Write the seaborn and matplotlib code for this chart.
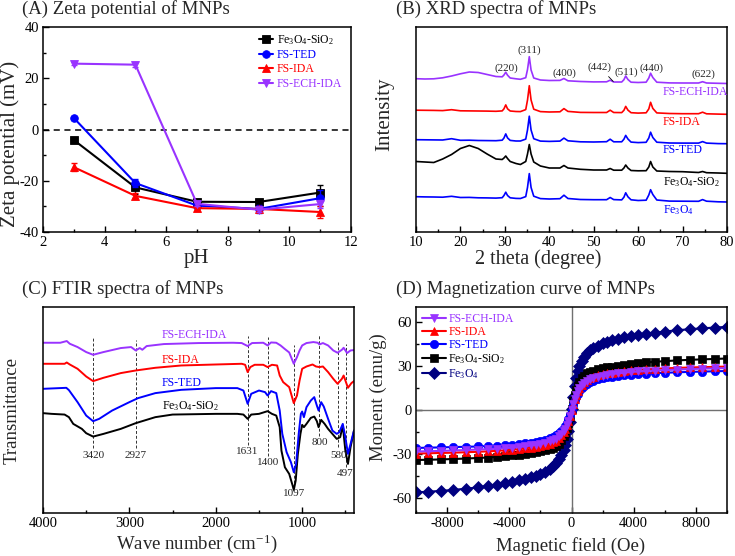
import matplotlib
matplotlib.use("Agg")
import matplotlib.pyplot as plt
import seaborn as sns
from matplotlib.ticker import MultipleLocator

sns.set_style("ticks")
plt.rcParams['font.family'] = ['Liberation Serif', 'DejaVu Serif']
plt.rcParams['mathtext.fontset'] = 'custom'
plt.rcParams['mathtext.rm'] = 'Liberation Serif'
plt.rcParams['mathtext.it'] = 'Liberation Serif:italic'
plt.rcParams['axes.unicode_minus'] = False

PURPLE = '#9933ff'
RED = '#ff0000'
BLUE = '#0000ff'
NAVY = '#000080'
BLACK = '#000000'

# ---------------- (A) Zeta potential ----------------
ph = [3, 5, 7, 9, 11]
zeta_sio2 = [-4.1, -22.6, -28.2, -28.3, -24.6]
zeta_ted = [4.5, -20.9, -29.7, -31.0, -26.8]
zeta_ida = [-14.7, -25.9, -30.7, -31.0, -32.2]
zeta_ech = [25.7, 25.3, -29.0, -31.3, -29.1]
err_sio2 = [0.8, 2.5, 1.2, 0.8, 2.8]
err_ted = [0.9, 1.5, 1.0, 1.5, 3.0]
err_ida = [1.5, 1.0, 1.0, 1.2, 2.5]
err_ech = [0.6, 1.0, 1.0, 1.0, 1.5]

# ---------------- (B) XRD ----------------
two_theta = [10, 12, 14, 16, 18, 20, 22, 24, 26, 28,
             29.4, 29.8, 30.2, 30.6, 31.2, 32.5, 33.5, 34.7, 35.1, 35.5,
             35.9, 36.5, 38, 40, 42.4, 43.3, 44.2, 47, 50, 52.9,
             53.7, 54.5, 56.3, 56.8, 57.2, 57.7, 58.4, 60, 61.8, 62.4,
             62.8, 63.3, 64.2, 67, 70, 73.6, 74.5, 75.4, 78, 80]
xrd_fe3o4 = [35.3, 35.1, 35.0, 34.8, 35.7, 34.5, 34.6, 34.2, 34.1, 33.9,
             34.3, 36.5, 39.8, 36.5, 34.2, 33.6, 33.5, 35.4, 44.6, 58.4,
             44.5, 35.8, 33.4, 33.0, 33.3, 36.8, 33.5, 32.5, 32.3, 32.3,
             34.5, 32.4, 32.1, 34.8, 39.2, 35.2, 32.2, 31.5, 31.8, 37.0,
             42.3, 37.5, 32.0, 30.9, 30.8, 30.7, 32.4, 30.8, 30.2, 30.0]
xrd_sio2 = [70.5, 70.0, 69.5, 73.0, 77.5, 83.5, 86.5, 83.5, 78.0, 73.0,
            72.5, 74.0, 76.0, 73.5, 70.5, 68.5, 67.5, 70.5, 78.0, 87.5,
            78.0, 70.0, 66.0, 64.0, 64.0, 66.5, 64.0, 62.7, 62.0, 62.0,
            63.5, 61.8, 61.8, 64.0, 67.0, 64.0, 61.5, 61.2, 61.3, 65.0,
            70.5, 65.0, 61.0, 60.5, 60.3, 59.5, 60.5, 59.3, 59.0, 58.7]
xrd_ted = [92.3, 92.2, 92.1, 92.0, 93.3, 91.7, 91.8, 91.5, 91.4, 91.3,
           91.8, 94.0, 98.1, 94.1, 91.6, 91.0, 91.0, 92.9, 102.1, 115.8,
           102.0, 93.3, 90.9, 90.6, 90.9, 93.9, 91.2, 90.2, 90.0, 90.3,
           92.8, 90.2, 90.2, 92.8, 96.6, 93.0, 89.9, 89.4, 89.7, 94.0,
           99.8, 94.5, 89.8, 89.0, 88.9, 88.9, 90.4, 88.9, 88.4, 88.3]
xrd_ida = [121.8, 121.7, 121.6, 121.4, 122.3, 121.2, 121.1, 121.0, 120.9, 120.7,
           121.1, 123.2, 127.1, 123.2, 121.0, 120.5, 120.4, 122.4, 132.0, 146.3,
           132.0, 122.8, 120.4, 120.0, 120.2, 123.4, 120.6, 119.6, 119.5, 119.5,
           121.8, 119.5, 119.4, 121.7, 125.6, 121.9, 119.3, 118.9, 119.2, 123.1,
           129.7, 123.6, 119.1, 118.5, 118.3, 118.3, 119.8, 118.2, 117.9, 117.7]
xrd_ech = [153.3, 153.0, 153.2, 154.2, 156.0, 158.2, 160.0, 159.5, 157.5, 155.5,
           155.2, 157.0, 159.8, 156.8, 154.0, 153.2, 152.7, 154.3, 162.5, 175.3,
           162.0, 154.0, 152.0, 151.5, 151.6, 153.5, 151.2, 150.5, 150.1, 150.2,
           151.8, 150.0, 150.0, 152.3, 156.0, 152.5, 149.8, 149.5, 149.8, 154.0,
           158.8, 154.5, 149.8, 149.1, 149.0, 149.0, 150.3, 149.0, 148.7, 148.5]
xrd_peak_labels = ['(220)', '(311)', '(400)', '(442)', '(511)', '(440)', '(622)']
xrd_peak_x = [30.4, 35.5, 43.3, 51.4, 57.4, 62.9, 74.6]
xrd_peak_y = [164, 182, 159, 164.5, 160, 164, 158]

# ---------------- (C) FTIR ----------------
ftir_ech_x = [4000, 3800, 3725, 3690, 3600, 3500, 3420, 3300, 3100, 2980, 2927, 2880, 2850, 2800,
              2600, 2200, 1800, 1700, 1631, 1580, 1450, 1400, 1360, 1300, 1250, 1200, 1150, 1097,
              1060, 1030, 1000, 950, 870, 820, 800, 760, 700, 640, 590, 540, 520, 480, 440, 400]
ftir_ech_y = [170, 170, 171.7, 169, 165.7, 160.7, 158, 160.7, 164.7, 165.7, 162.3, 164.7, 163, 166.7,
              168.7, 169.7, 170, 169.7, 166.7, 169.7, 170, 167.3, 170.3, 170, 167.3, 163.7, 160.3, 149,
              155.7, 162.3, 167.3, 169.7, 170.7, 170, 168.3, 169.7, 167.3, 162.3, 160, 163, 165, 159.7,
              162.3, 162.7]
ftir_ida_x = [4000, 3750, 3725, 3690, 3600, 3500, 3420, 3300, 3100, 2927, 2700, 2400, 2000, 1700,
              1660, 1631, 1600, 1550, 1450, 1400, 1350, 1290, 1260, 1220, 1150, 1097, 1060, 1030,
              1000, 950, 880, 840, 800, 760, 700, 640, 590, 540, 520, 470, 430, 400]
ftir_ida_y = [149, 149, 150.3, 148.3, 144, 136.3, 131.7, 135, 139.7, 142.3, 145, 147.3, 148.3, 149,
              148, 140.7, 145.7, 148, 148, 145.7, 148, 147.3, 137.3, 130.7, 125.7, 109.7, 117.3, 132.3,
              144, 146.3, 148.3, 146.3, 145.7, 146.3, 140.7, 134, 129, 134, 137.3, 125, 129.7, 131.7]
ftir_ted_x = [4000, 3730, 3700, 3600, 3500, 3420, 3350, 3200, 3000, 2900, 2700, 2400, 2000, 1750,
              1680, 1631, 1590, 1500, 1430, 1400, 1360, 1300, 1260, 1230, 1180, 1130, 1097, 1070,
              1040, 1015, 1000, 980, 950, 900, 860, 830, 810, 780, 750, 700, 650, 600, 570, 530,
              500, 470, 440, 400]
ftir_ted_y = [124, 125, 122.7, 110.7, 97.3, 91.7, 94, 102.3, 110.7, 114.7, 119.7, 123, 124.7, 124.7,
              122.3, 109, 119, 122.3, 120.7, 117.3, 121.7, 119.7, 102.3, 79, 60.7, 50.7, 40.7, 49,
              79, 99, 101.3, 95.7, 105.7, 112.3, 115.7, 107.3, 102.3, 110.7, 106.3, 94, 82.3, 79,
              80.7, 89, 75.7, 59, 69, 82.3]
ftir_sio2_x = [4000, 3900, 3750, 3700, 3650, 3550, 3500, 3420, 3300, 3100, 2927, 2700, 2500, 2000,
               1750, 1680, 1631, 1590, 1500, 1400, 1350, 1300, 1260, 1240, 1200, 1150, 1110, 1097,
               1075, 1050, 1020, 1000, 980, 950, 900, 860, 830, 810, 780, 740, 700, 650, 600, 560,
               530, 500, 470, 440, 400]
ftir_sio2_y = [99.7, 99, 98.3, 95.7, 89, 84, 79.7, 76.3, 79, 84, 89.7, 95.7, 98.3, 99,
               99, 98.3, 94, 98.3, 99, 101.7, 99, 97.3, 85.7, 62.3, 45.7, 39, 27.3, 23,
               32.3, 59, 79, 88, 85.7, 89, 95, 96.3, 91.7, 85.7, 93, 89, 84, 79, 74, 75.7,
               87.3, 62.3, 49, 65.7, 82.3]
ftir_band_labels = ['3420', '2927', '1631', '1400', '1097', '800', '580', '497']
ftir_band_x = [3420, 2927, 1631, 1400, 1097, 800, 580, 497]
ftir_band_top = [175, 173, 176.3, 175.7, 167.3, 179, 170.7, 168.3]
ftir_band_bottom = [65, 65, 68.3, 57.3, 29.7, 77.3, 65.7, 46.3]
ftir_label_y = [57.3, 57.3, 61.7, 50.7, 19, 70.7, 57.3, 39]

# ---------------- (D) Magnetization ----------------
field = [-10000, -9200, -8400, -7600, -6800, -6000, -5400, -4800, -4300, -3800, -3400, -3000, -2600,
         -2300, -2000, -1700, -1400, -1200, -1000, -800, -650, -500, -400, -300, -200, -100, 0,
         100, 200, 300, 400, 500, 650, 800, 1000, 1200, 1400, 1700, 2000, 2300, 2600, 3000, 3400,
         3800, 4300, 4800, 5400, 6000, 6800, 7600, 8400, 9200, 10000]
m_fe3o4 = [-56.0, -55.5, -55.0, -54.3, -53.5, -52.6, -51.7, -50.8, -49.9, -48.9, -47.9, -46.9, -45.8,
           -44.8, -43.6, -42.0, -40.0, -38.2, -36.0, -33.2, -30.5, -27.0, -23.5, -19.5, -14.5, -8.0, 0.5,
           9.0, 16.0, 22.0, 26.5, 30.0, 33.5, 36.0, 38.5, 40.5, 42.0, 43.8, 45.2, 46.3, 47.3, 48.4, 49.3,
           50.1, 51.0, 51.8, 52.6, 53.3, 54.2, 54.9, 55.5, 56.0, 56.5]
m_sio2 = [-34.0, -33.8, -33.6, -33.3, -33.0, -32.6, -32.3, -31.9, -31.4, -30.9, -30.3, -29.7, -29.1,
          -28.6, -28.0, -27.2, -26.4, -25.6, -24.5, -22.8, -20.7, -18.0, -15.5, -12.5, -9.0, -5.0, 0.5,
          6.0, 10.0, 13.5, 16.5, 19.0, 21.5, 23.3, 25.0, 26.0, 26.8, 27.6, 28.3, 28.9, 29.4, 30.0, 30.6,
          31.2, 31.8, 32.3, 32.8, 33.2, 33.7, 34.1, 34.4, 34.7, 35.0]
m_ted = [-25.8, -25.6, -25.4, -25.2, -25.0, -24.8, -24.5, -24.2, -23.9, -23.5, -23.1, -22.7, -22.2,
         -21.7, -21.1, -20.3, -19.3, -18.4, -17.2, -15.8, -14.3, -12.3, -10.6, -8.7, -6.3, -3.4, 0.0,
         3.5, 6.5, 9.0, 11.0, 12.8, 14.8, 16.3, 17.8, 18.9, 19.8, 20.8, 21.6, 22.2, 22.7, 23.2, 23.6,
         24.0, 24.4, 24.7, 25.0, 25.3, 25.6, 25.9, 26.1, 26.3, 26.5]
m_ida = [-29.6, -29.4, -29.2, -29.0, -28.7, -28.4, -28.1, -27.8, -27.4, -27.0, -26.6, -26.1, -25.5,
         -25.0, -24.4, -23.7, -22.8, -21.9, -20.8, -19.0, -17.3, -15.0, -13.0, -10.5, -7.5, -4.0, 0.3,
         4.0, 7.5, 10.5, 13.0, 15.0, 17.3, 19.0, 20.7, 21.8, 22.7, 23.6, 24.3, 24.9, 25.4, 26.0, 26.5,
         26.9, 27.3, 27.7, 28.0, 28.3, 28.6, 28.9, 29.1, 29.3, 29.5]
m_ech = [-28.2, -28.0, -27.8, -27.5, -27.2, -26.9, -26.6, -26.3, -25.9, -25.5, -25.1, -24.6, -24.1,
         -23.6, -23.1, -22.3, -21.4, -20.6, -19.5, -18.0, -16.5, -14.5, -12.6, -10.3, -7.3, -4.0, 0.2,
         4.0, 7.5, 10.5, 12.8, 14.7, 16.8, 18.3, 19.8, 20.9, 21.7, 22.6, 23.4, 23.9, 24.4, 24.9, 25.4,
         25.8, 26.2, 26.5, 26.8, 27.1, 27.5, 27.8, 28.1, 28.3, 28.5]

LBL_SIO2 = 'Fe$_3$O$_4$-SiO$_2$'
LBL_FE = 'Fe$_3$O$_4$'

W, H = 735, 556
fig = plt.figure(figsize=(W / 100, H / 100), dpi=100)


def px_axes(l, t, r, b):
    return fig.add_axes([l / W, 1 - b / H, (r - l) / W, (b - t) / H])


def style(ax, tick_size=10.5):
    for s in ax.spines.values():
        s.set_linewidth(1.1)
        s.set_color('black')
    ax.tick_params(which='both', direction='in', top=False, right=False,
                   labelsize=tick_size, width=1.0, colors='black', pad=3)
    ax.tick_params(which='major', length=4)
    ax.tick_params(which='minor', length=2)
    ax.set_xlabel('')
    ax.set_ylabel('')


def ftext(x, y, s, size, **kw):
    fig.text(x / W, 1 - y / H, s, fontsize=size, **kw)


axA = px_axes(43, 27, 351, 232)
axB = px_axes(416, 27, 727, 232)
axC = px_axes(43, 307, 354, 513)
axD = px_axes(416, 307, 727, 513)

# ---- A ----
axA.axhline(0, color='black', lw=1.1, ls=(0, (4, 3)), zorder=1)
seriesA = [(zeta_sio2, err_sio2, BLACK, 's', LBL_SIO2),
           (zeta_ted, err_ted, BLUE, 'o', 'FS-TED'),
           (zeta_ida, err_ida, RED, '^', 'FS-IDA'),
           (zeta_ech, err_ech, PURPLE, 'v', 'FS-ECH-IDA')]
for vals, err, c, mk, lab in seriesA:
    axA.errorbar(ph, vals, yerr=err, fmt='none', ecolor=c, elinewidth=1.0,
                 capsize=2.5, capthick=1.0, zorder=2)
    sns.lineplot(x=ph, y=vals, ax=axA, color=c, marker=mk, markersize=5.5,
                 markeredgecolor=c, markeredgewidth=0.6, linewidth=1.5, label=lab)
axA.set_xlim(2, 12)
axA.set_ylim(-40, 40)
axA.xaxis.set_major_locator(MultipleLocator(2))
axA.xaxis.set_minor_locator(MultipleLocator(1))
axA.yaxis.set_major_locator(MultipleLocator(20))
axA.yaxis.set_minor_locator(MultipleLocator(10))
style(axA)
legA = axA.legend(loc='upper right', frameon=False, fontsize=8.5, handlelength=1.2,
                  handletextpad=0.3, labelspacing=0.2, borderaxespad=0.1,
                  bbox_to_anchor=(0.99, 1.0))
for t, hnd in zip(legA.get_texts(), legA.legend_handles):
    t.set_color(hnd.get_color())

# ---- B ----
seriesB = [(xrd_fe3o4, BLUE), (xrd_sio2, BLACK), (xrd_ted, BLUE), (xrd_ida, RED), (xrd_ech, PURPLE)]
for vals, c in seriesB:
    sns.lineplot(x=two_theta, y=vals, ax=axB, color=c, linewidth=1.2)
axB.set_xlim(10, 80)
axB.set_ylim(0, 205)
axB.xaxis.set_major_locator(MultipleLocator(10))
axB.xaxis.set_minor_locator(MultipleLocator(5))
axB.set_yticks([])
style(axB)
for lab, x, y in zip(xrd_peak_labels, xrd_peak_x, xrd_peak_y):
    if lab == '(442)':
        axB.annotate(lab, xy=(54.4, 150.5), xytext=(x, y), fontsize=8, ha='center', va='center',
                     arrowprops=dict(arrowstyle='-', lw=0.6, color='black', shrinkA=1, shrinkB=0))
    else:
        axB.text(x, y, lab, fontsize=8, ha='center', va='center')
xrd_names = [('FS-ECH-IDA', 140.0, PURPLE), ('FS-IDA', 110.0, RED), ('FS-TED', 82.5, BLUE),
             (LBL_SIO2, 50.3, BLACK), (LBL_FE, 22, BLUE)]
for name, y, c in xrd_names:
    axB.text(65.6, y, name, fontsize=8.5, color=c, ha='left', va='center')

# ---- C ----
seriesC = [(ftir_sio2_x, ftir_sio2_y, BLACK), (ftir_ted_x, ftir_ted_y, BLUE),
           (ftir_ida_x, ftir_ida_y, RED), (ftir_ech_x, ftir_ech_y, PURPLE)]
for xs, ys, c in seriesC:
    sns.lineplot(x=xs, y=ys, ax=axC, color=c, linewidth=1.4)
for x, top, bot, lab, ly in zip(ftir_band_x, ftir_band_top, ftir_band_bottom,
                                ftir_band_labels, ftir_label_y):
    axC.plot([x, x], [bot, top], color='#333333', lw=0.7, ls=(0, (3, 2)), zorder=1)
    axC.text(x, ly, lab, fontsize=8, ha='center', va='center')
axC.set_xlim(4000, 400)
axC.set_ylim(0, 205.7)
axC.xaxis.set_major_locator(MultipleLocator(1000))
axC.xaxis.set_minor_locator(MultipleLocator(500))
axC.set_yticks([])
style(axC)
ftir_names = [('FS-ECH-IDA', 177.3, PURPLE), ('FS-IDA', 153, RED), ('FS-TED', 129.7, BLUE),
              (LBL_SIO2, 106.3, BLACK)]
for name, y, c in ftir_names:
    axC.text(2623, y, name, fontsize=8.5, color=c, ha='left', va='center')

# ---- D ----
axD.axhline(0, color='#707070', lw=1.0, zorder=1)
axD.axvline(0, color='#707070', lw=1.0, zorder=1)
seriesD = [(m_fe3o4, NAVY, 'D', LBL_FE), (m_sio2, BLACK, 's', LBL_SIO2),
           (m_ted, BLUE, 'o', 'FS-TED'), (m_ida, RED, '^', 'FS-IDA'),
           (m_ech, PURPLE, 'v', 'FS-ECH-IDA')]
for vals, c, mk, lab in seriesD:
    sns.lineplot(x=field, y=vals, ax=axD, color=c, marker=mk, markersize=6,
                 markeredgecolor=c, markeredgewidth=0.5, linewidth=1.5, label=lab)
axD.set_xlim(-10000, 10000)
axD.set_ylim(-70, 70)
axD.xaxis.set_major_locator(MultipleLocator(4000))
axD.xaxis.set_minor_locator(MultipleLocator(2000))
axD.yaxis.set_major_locator(MultipleLocator(30))
axD.yaxis.set_minor_locator(MultipleLocator(15))
style(axD)
hs, ls = axD.get_legend_handles_labels()
order = [4, 3, 2, 1, 0]
legD = axD.legend([hs[i] for i in order], [ls[i] for i in order], loc='upper left',
                  frameon=False, fontsize=8.5, handlelength=2.0, handletextpad=0.2,
                  labelspacing=0.08, borderaxespad=0.15)
for t, hnd in zip(legD.get_texts(), legD.legend_handles):
    t.set_color(hnd.get_color())

# ---- titles and axis labels ----
ftext(22, 9, '(A) Zeta potential of MNPs', 13.5, ha='left', va='center')
ftext(396, 9, '(B) XRD spectra of MNPs', 13.5, ha='left', va='center')
ftext(22, 289, '(C) FTIR spectra of MNPs', 13.5, ha='left', va='center')
ftext(396, 289, '(D) Magnetization curve of MNPs', 13.5, ha='left', va='center')

ftext(196, 258, 'pH', 15, ha='center', va='center')
ftext(10, 144, 'Zeta potential (mV)', 15, ha='center', va='center', rotation=90)
ftext(538, 259, '2 theta (degree)', 14.5, ha='center', va='center')
ftext(385, 114, 'Intensity', 15, ha='center', va='center', rotation=90)
ftext(197, 544, 'Wave number (cm$^{-1}$)', 13.5, ha='center', va='center')
ftext(12, 410, 'Transmittance', 13.5, ha='center', va='center', rotation=90)
ftext(571, 546, 'Magnetic field (Oe)', 13.5, ha='center', va='center')
ftext(378, 397, 'Moment (emu/g)', 13.5, ha='center', va='center', rotation=90)

fig.savefig('out.png', dpi=100)
